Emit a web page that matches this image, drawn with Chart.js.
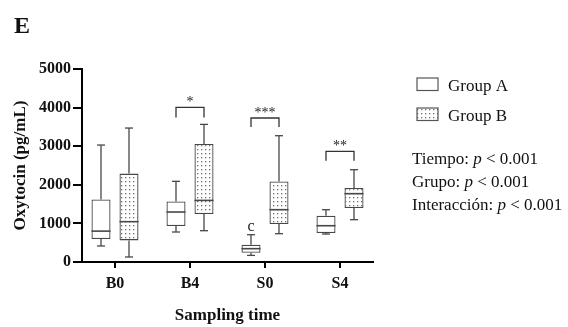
<!DOCTYPE html>
<html>
<head>
<meta charset="utf-8">
<script src="https://cdn.jsdelivr.net/npm/chart.js@4.4.0/dist/chart.umd.min.js"></script>
<style>
  html, body { margin: 0; padding: 0; background: #fff; }
  #wrap { width: 568px; height: 327px; }
</style>
</head>
<body>
<div id="wrap"><canvas id="oxyChart"></canvas></div>
<script>
// Sampling times
const categories = ['B0', 'B4', 'S0', 'S4'];

// Group A box statistics (pg/mL)
const aMin    = [415, 777, 171, 725];
const aQ1     = [595, 930, 241, 750];
const aMedian = [800, 1295, 345, 940];
const aQ3     = [1620, 1570, 448, 1200];
const aMax    = [3030, 2090, 707, 1355];

// Group B box statistics (pg/mL)
const bMin    = [130, 811, 733, 1096];
const bQ1     = [560, 1243, 985, 1400];
const bMedian = [1045, 1596, 1355, 1770];
const bQ3     = [2290, 3057, 2088, 1917];
const bMax    = [3470, 3565, 3272, 2391];

// Significance brackets between groups
const sigIndex  = [1, 2, 3];
const sigStars  = ['*', '***', '**'];
const sigTop    = [4005, 3730, 2865];
const sigBottom = [3745, 3500, 2625];

const yTicks = [0, 1000, 2000, 3000, 4000, 5000];
const statsLines = [['Tiempo: ', ' < 0.001'], ['Grupo: ', ' < 0.001'], ['Interacción: ', ' < 0.001']];

const serif = "'Liberation Serif', 'Times New Roman', serif";
Chart.defaults.font.family = serif;
Chart.defaults.color = '#111';

const lineCol = '#474747';

// dotted fill for group B
function dotPattern() {
    const c = document.createElement('canvas');
    c.width = 4; c.height = 4;
    const g = c.getContext('2d');
    g.fillStyle = '#fff';
    g.fillRect(0, 0, 4, 4);
    g.fillStyle = '#6e6e6e';
    g.fillRect(1, 1, 1.3, 1.3);
    return g.createPattern(c, 'repeat');
}
const ctx = document.getElementById('oxyChart').getContext('2d');
const dots = dotPattern();

const stats = [
    { min: aMin, q1: aQ1, med: aMedian, q3: aQ3, max: aMax },
    { min: bMin, q1: bQ1, med: bMedian, q3: bQ3, max: bMax }
];

function hline(c, x1, x2, y) {
    c.beginPath(); c.moveTo(x1, y); c.lineTo(x2, y); c.stroke();
}
function vline(c, x, y1, y2) {
    c.beginPath(); c.moveTo(x, y1); c.lineTo(x, y2); c.stroke();
}

// whiskers, medians, brackets, legend and text
const boxExtras = {
    id: 'boxExtras',
    afterDatasetsDraw(chart) {
        const c = chart.ctx;
        const y = chart.scales.y;
        c.save();
        c.strokeStyle = lineCol;
        c.lineWidth = 1.3;
        stats.forEach((s, di) => {
            chart.getDatasetMeta(di).data.forEach((bar, i) => {
                const x = bar.x, half = bar.width / 2;
                vline(c, x, y.getPixelForValue(s.q3[i]), y.getPixelForValue(s.max[i]));
                vline(c, x, y.getPixelForValue(s.q1[i]), y.getPixelForValue(s.min[i]));
                hline(c, x - 4, x + 4, y.getPixelForValue(s.max[i]));
                hline(c, x - 4, x + 4, y.getPixelForValue(s.min[i]));
                c.lineWidth = 1.6;
                hline(c, x - half, x + half, y.getPixelForValue(s.med[i]));
                c.lineWidth = 1.3;
            });
        });

        // "c" over S0 group A
        const s0a = chart.getDatasetMeta(0).data[2];
        c.fillStyle = '#222';
        c.font = '16px ' + serif;
        c.textAlign = 'center';
        c.textBaseline = 'alphabetic';
        c.fillText('c', s0a.x, y.getPixelForValue(aMax[2]) - 4);

        // brackets
        c.strokeStyle = '#333';
        sigIndex.forEach((idx, k) => {
            const xa = chart.getDatasetMeta(0).data[idx].x;
            const xb = chart.getDatasetMeta(1).data[idx].x;
            const yt = y.getPixelForValue(sigTop[k]);
            const yb = y.getPixelForValue(sigBottom[k]);
            c.beginPath();
            c.moveTo(xa, yb); c.lineTo(xa, yt); c.lineTo(xb, yt); c.lineTo(xb, yb);
            c.stroke();
            c.font = '14px ' + serif;
            c.fillText(sigStars[k], (xa + xb) / 2, yt - 1);
        });

        // legend
        c.lineWidth = 1.2;
        c.strokeStyle = '#555';
        c.fillStyle = '#fff';
        c.fillRect(417, 78, 21, 12.5);
        c.strokeRect(417, 78, 21, 12.5);
        c.fillStyle = dots;
        c.fillRect(417, 108, 21, 12.5);
        c.strokeRect(417, 108, 21, 12.5);
        c.fillStyle = '#111';
        c.textAlign = 'left';
        c.font = '17px ' + serif;
        c.fillText('Group A', 448, 91);
        c.fillText('Group B', 448, 121);

        // statistics
        statsLines.forEach((parts, k) => {
            const by = 164 + k * 23;
            let x = 412;
            c.font = '17px ' + serif;
            c.fillText(parts[0], x, by);
            x += c.measureText(parts[0]).width;
            c.font = 'italic 17px ' + serif;
            c.fillText('p', x, by);
            x += c.measureText('p').width;
            c.font = '17px ' + serif;
            c.fillText(parts[1], x, by);
        });

        // panel letter
        c.font = 'bold 24px ' + serif;
        c.fillText('E', 14, 33);
        c.restore();
    }
};

new Chart(ctx, {
    type: 'bar',
    data: {
        datasets: [
            {
                label: 'Group A',
                data: categories.map((_, i) => ({ x: i, y: [aQ1[i], aQ3[i]] })),
                backgroundColor: '#fff',
                borderColor: lineCol,
                borderWidth: 1.3,
                borderSkipped: false
            },
            {
                label: 'Group B',
                data: categories.map((_, i) => ({ x: i, y: [bQ1[i], bQ3[i]] })),
                backgroundColor: dots,
                borderColor: lineCol,
                borderWidth: 1.3,
                borderSkipped: false
            }
        ]
    },
    options: {
        responsive: true,
        maintainAspectRatio: false,
        animation: false,
        categoryPercentage: 0.7467,
        barPercentage: 0.68,
        layout: { padding: { top: 69, right: 195, left: 0, bottom: 0 } },
        plugins: {
            legend: { display: false },
            tooltip: { enabled: false }
        },
        scales: {
            x: {
                type: 'linear',
                min: -0.44,
                max: 3.44,
                offset: false,
                afterFit: (scale) => { scale.height = 65; },
                ticks: {
                    stepSize: 1,
                    includeBounds: false,
                    padding: 6,
                    color: '#111',
                    font: { size: 16, weight: 'bold' },
                    callback: (v) => categories[v]
                },
                grid: { offset: false, drawOnChartArea: false, tickLength: 6, color: '#000', lineWidth: 2 },
                border: { color: '#000', width: 2 },
                title: {
                    display: true,
                    text: 'Sampling time',
                    color: '#111',
                    font: { size: 17, weight: 'bold' },
                    padding: { top: 0, bottom: 1 }
                }
            },
            y: {
                min: 0,
                max: 5000,
                afterFit: (scale) => { scale.width = 82; },
                afterBuildTicks: (scale) => { scale.ticks = yTicks.map(v => ({ value: v })); },
                ticks: {
                    padding: 2,
                    color: '#111',
                    font: { size: 16, weight: 'bold' },
                    callback: (v) => String(v)
                },
                grid: { drawOnChartArea: false, tickLength: 9, color: '#000', lineWidth: 2 },
                border: { color: '#000', width: 2 },
                title: {
                    display: true,
                    text: 'Oxytocin (pg/mL)',
                    color: '#111',
                    font: { size: 17, weight: 'bold' },
                    padding: { top: 10, bottom: 0 }
                }
            }
        }
    },
    plugins: [boxExtras]
});
</script>
</body>
</html>
